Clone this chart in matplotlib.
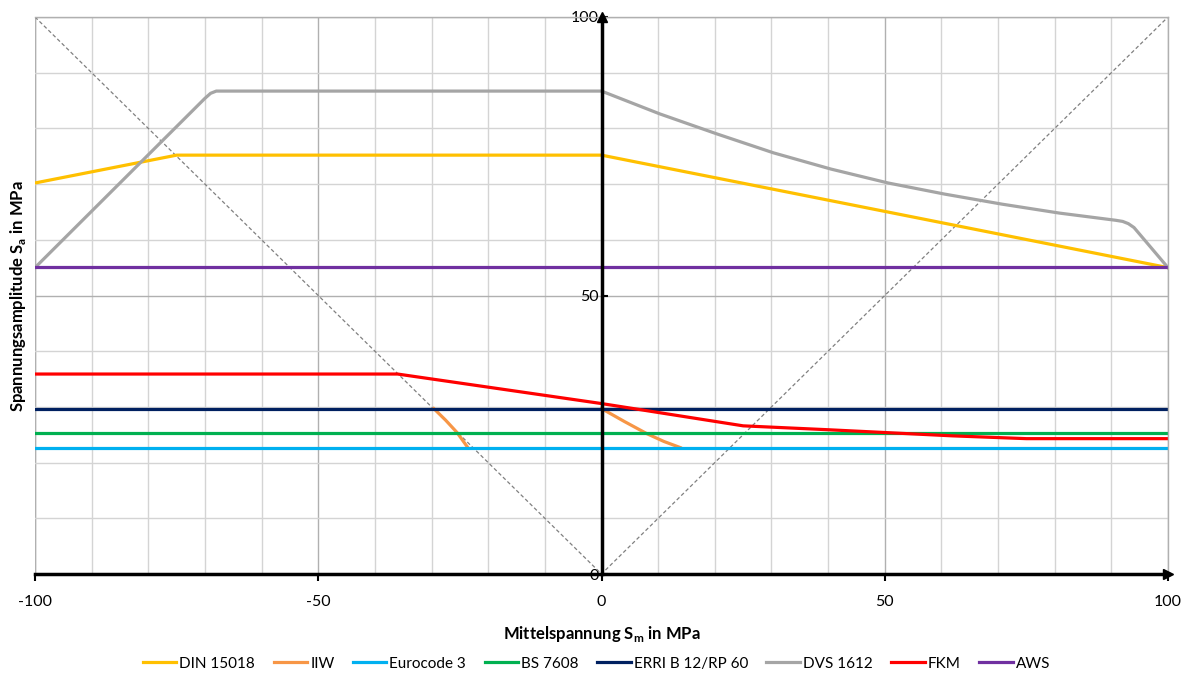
import matplotlib
matplotlib.use("Agg")
import matplotlib.pyplot as plt
import numpy as np

plt.rcParams["font.family"] = ["Lato", "DejaVu Sans"]
plt.rcParams["axes.unicode_minus"] = False

# Kurvenpunkte (Sm, Sa) in MPa
din_x = [-100, -75, 0, 100]
din_y = [70.2, 75.2, 75.2, 55.0]

iiw_left_x = [-29.6, -27.5, -25.5, -23.6]
iiw_left_y = [29.7, 27.6, 25.4, 22.7]
iiw_right_x = [0, 4, 8, 11, 13.9]
iiw_right_y = [29.7, 27.4, 25.2, 23.8, 22.7]

euro_y = 22.7
bs_y = 25.3
erri_y = 29.6
aws_y = 55.1

dvs_x = [-100, -70, -69, -68, -66, 0, 10.3, 20.4, 30.4, 40.5, 50.6, 60.6, 70.7, 80.8, 90.8, 92.0, 93.0, 94.0, 100]
dvs_y = [55.0, 85.4, 86.3, 86.7, 86.7, 86.7, 82.6, 79.0, 75.6, 72.7, 70.2, 68.2, 66.4, 64.8, 63.5, 63.3, 62.9, 62.2, 55.0]

fkm_x = [-100, -36, 0, 25, 40, 50, 62, 75, 100]
fkm_y = [35.9, 35.9, 30.6, 26.6, 25.9, 25.4, 24.8, 24.3, 24.3]

legend_labels = ["DIN 15018", "IIW", "Eurocode 3", "BS 7608", "ERRI B 12/RP 60", "DVS 1612", "FKM", "AWS"]
colors = ["#FFC000", "#F79646", "#00B0F0", "#00B050", "#002060", "#A5A5A5", "#FF0000", "#7030A0"]

fig = plt.figure(figsize=(11.93, 6.77), dpi=100)
ax = fig.add_axes([35 / 1193, 103 / 677, 1133 / 1193, 557 / 677])
ax.set_xlim(-100, 100)
ax.set_ylim(0, 100)

# Gitter
ax.set_xticks(np.arange(-100, 101, 10), minor=True)
ax.set_yticks(np.arange(0, 101, 10), minor=True)
ax.set_xticks([-100, -50, 0, 50, 100])
ax.set_yticks([0, 50, 100])
ax.grid(which="minor", color="#D4D4D4", lw=1.0, zorder=0)
ax.grid(which="major", color="#B0B0B0", lw=1.0, zorder=0)
ax.set_axisbelow(True)

# Hilfslinien Sa = |Sm|
ax.plot([-100, 0, 100], [100, 0, 100], color="#808080", lw=0.9, ls=(0, (3, 2)), zorder=1)

lw = 2.3
ax.plot(din_x, din_y, color=colors[0], lw=lw, label=legend_labels[0], zorder=2)
ax.plot(iiw_left_x, iiw_left_y, color=colors[1], lw=lw, label=legend_labels[1], zorder=2)
ax.plot(iiw_right_x, iiw_right_y, color=colors[1], lw=lw, zorder=2)
ax.axhline(euro_y, color=colors[2], lw=lw, label=legend_labels[2], zorder=2)
ax.axhline(bs_y, color=colors[3], lw=lw, label=legend_labels[3], zorder=2)
ax.axhline(erri_y, color=colors[4], lw=lw, label=legend_labels[4], zorder=2)
ax.plot(dvs_x, dvs_y, color=colors[5], lw=lw, label=legend_labels[5], zorder=2)
ax.plot(fkm_x, fkm_y, color=colors[6], lw=lw, label=legend_labels[6], zorder=2)
ax.axhline(aws_y, color=colors[7], lw=lw, label=legend_labels[7], zorder=2)

# Achsen durch den Ursprung
for s in ["top", "right"]:
    ax.spines[s].set_color("#B0B0B0")
    ax.spines[s].set_linewidth(1.0)
ax.spines["left"].set_position(("data", 0))
ax.spines["left"].set_linewidth(2.5)
ax.spines["bottom"].set_linewidth(2.5)
ax.spines["left"].set_zorder(5)
ax.spines["bottom"].set_zorder(5)
ax.plot(1, 0, ">k", ms=7, transform=ax.get_yaxis_transform(), clip_on=False, zorder=6)
ax.plot(0, 1, "^k", ms=7, transform=ax.get_xaxis_transform(), clip_on=False, zorder=6)
ax.axvline(-100, color="#B0B0B0", lw=1.0, zorder=0)

ax.tick_params(axis="x", which="major", direction="out", length=5, width=1.5, labelsize=11.5, pad=10)
ax.tick_params(axis="y", which="major", direction="in", length=4, width=1.5, labelsize=11.5, pad=2)
ax.tick_params(which="minor", length=0)

ax.set_xlabel(r"Mittelspannung S$_\mathregular{m}$ in MPa", fontsize=12, fontweight="bold", labelpad=11)
fig.text(18 / 1193, 1 - 296 / 677, r"Spannungsamplitude S$_\mathregular{a}$ in MPa",
         rotation=90, fontsize=12, fontweight="bold", ha="center", va="center")

ax.legend(loc="lower center", bbox_to_anchor=(0.5, -0.004), bbox_transform=fig.transFigure,
          ncol=8, frameon=False, fontsize=11, handlelength=2.2, handletextpad=0.2,
          columnspacing=1.2, borderaxespad=0.2)

fig.savefig("out.png", dpi=100)
